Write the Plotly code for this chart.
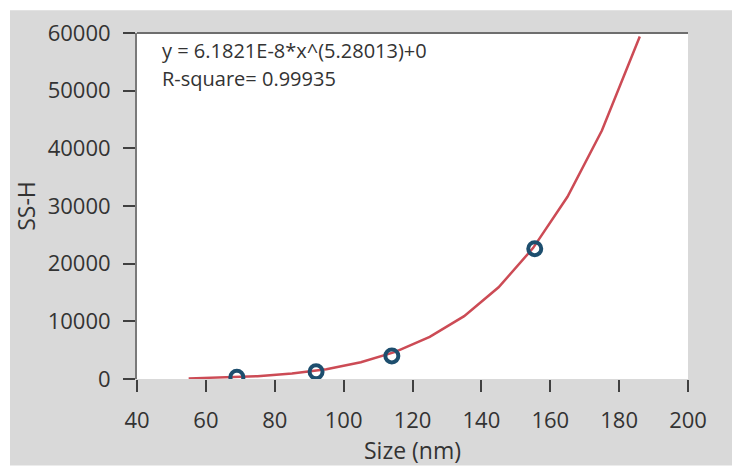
import plotly.graph_objects as go

# Measured data points
size_nm = [69, 92, 114, 155.5]
ss_h = [300, 1250, 4000, 22600]

# Fitted curve
fit_x = [55, 65, 75, 85, 95, 105, 115, 125, 135, 145, 155, 165, 175, 186]
fit_y = [100, 230, 490, 950, 1700, 2900, 4700, 7300, 10900, 15900, 22700, 31600, 43100, 59400]

x_ticks = [40, 60, 80, 100, 120, 140, 160, 180, 200]
y_ticks = [0, 10000, 20000, 30000, 40000, 50000, 60000]
y_tick_labels = ["0", "10000", "20000", "30000", "40000", "50000", "60000"]

eq_text = "y = 6.1821E-8*x^(5.28013)+0"
r2_text = "R-square= 0.99935"

W, H = 732, 466
L, R, T, B = 137, 44, 33, 85
pw, ph = W - L - R, H - T - B


def px(xp):
    return (xp - L) / pw


def py(yp):
    return (H - B - yp) / ph


FONT = "Open Sans"
TXT = "#333333"

fig = go.Figure()
fig.add_trace(go.Scatter(x=fit_x, y=fit_y, mode="lines",
                         line=dict(color="#cc4b55", width=2.5), showlegend=False))
fig.add_trace(go.Scatter(x=size_nm, y=ss_h, mode="markers",
                         marker=dict(symbol="circle-open", size=13, color="#1d4e6e",
                                     line=dict(width=4, color="#1d4e6e")),
                         showlegend=False))

shapes = [
    # grey panel behind the chart (white border at top and left)
    dict(type="rect", xref="paper", yref="paper", x0=px(10), x1=px(W + 2), y0=py(H + 2), y1=py(10),
         fillcolor="#d9d9d9", line=dict(width=0), layer="below"),
    # white plotting area
    dict(type="rect", xref="paper", yref="paper", x0=0, x1=1, y0=0, y1=1,
         fillcolor="white", line=dict(width=0), layer="below"),
    # top border of plot area
    dict(type="line", xref="paper", yref="paper", x0=0, x1=1, y0=1, y1=1,
         line=dict(color="#6e6e6e", width=2)),
]

annotations = [
    dict(text=eq_text, xref="paper", yref="paper", x=px(160), y=py(51), xanchor="left",
         yanchor="middle", showarrow=False, font=dict(family=FONT, size=20, color=TXT)),
    dict(text=r2_text, xref="paper", yref="paper", x=px(160), y=py(79), xanchor="left",
         yanchor="middle", showarrow=False, font=dict(family=FONT, size=20, color=TXT)),
]

fig.update_layout(
    width=W, height=H,
    margin=dict(l=L, r=R, t=T, b=B),
    paper_bgcolor="white",
    plot_bgcolor="white",
    font=dict(family=FONT, color=TXT),
    shapes=shapes,
    annotations=annotations,
    xaxis=dict(range=[40, 200], tickvals=x_ticks, showgrid=False, zeroline=False,
               showline=False, ticks="outside", ticklen=12, tickwidth=2, tickcolor="#404040",
               ticklabelstandoff=10, tickfont=dict(size=22, color=TXT),
               title=dict(text="Size (nm)", font=dict(size=23, color=TXT), standoff=3)),
    yaxis=dict(range=[0, 60000], tickvals=y_ticks, ticktext=y_tick_labels,
               showgrid=False, zeroline=False,
               showline=True, linecolor="#7a7a7a", linewidth=2,
               ticks="outside", ticklen=12, tickwidth=2, tickcolor="#404040",
               ticklabelstandoff=8, tickfont=dict(size=22, color=TXT),
               title=dict(text="SS-H", font=dict(size=23, color=TXT), standoff=6)),
)

fig.write_html("out.html", config={"displayModeBar": False},
               post_script="document.body.style.margin='0';")
